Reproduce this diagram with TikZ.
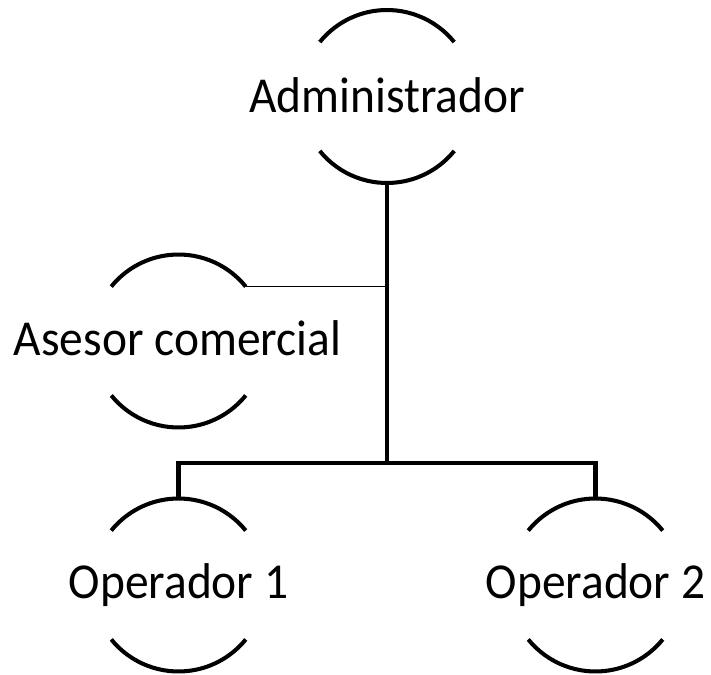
\documentclass[tikz,border=0pt]{standalone}
\usepackage{fontspec}
\setmainfont{Carlito}
\usetikzlibrary{calc,positioning}
\newcommand{\rr}{1.73cm}
\tikzset{
  role/.style={circle,minimum size=3.46cm,inner sep=0pt,outer sep=0pt},
  lbl/.style={font=\fontsize{27}{32}\selectfont,inner sep=0pt,
    text height=0.6cm,text depth=0.2cm,yscale=1.06},
  rim/.style={line width=2.3pt},
  trunk/.style={line width=2.3pt},
  branch/.style={line width=1pt}
}
\begin{document}
\begin{tikzpicture}
  \useasboundingbox (0,0) rectangle (14.22,13.5);

  \node [role,label={[yshift=-0.10cm,lbl]center:Administrador}] (adm) at (7.74,11.57) {};
  \node [role,below=1.43cm of adm,xshift=-4.17cm,
    label={[xshift=-0.02cm,yshift=-0.07cm,lbl]center:Asesor comercial}] (ase) {};
  \node [role,below=1.42cm of ase,
    label={[yshift=-0.05cm,lbl]center:Operador 1}] (op1) {};
  \node [role,right=4.88cm of op1,
    label={[yshift=-0.05cm,lbl]center:Operador 2}] (op2) {};

  % only the top and bottom of each circle
  \foreach \n in {adm,ase,op1,op2}
    \draw [rim] (\n.39) arc (39:141:\rr) (\n.219) arc (219:321:\rr);

  \coordinate [above=0.71cm of op1.north] (k1);
  \draw [trunk] (op1.north) -- (k1) -| (op2.north);
  \draw [trunk] (adm.south) -- (adm |- k1);
  \draw [branch] (ase.39) -- (ase.39 -| adm);
\end{tikzpicture}
\end{document}
